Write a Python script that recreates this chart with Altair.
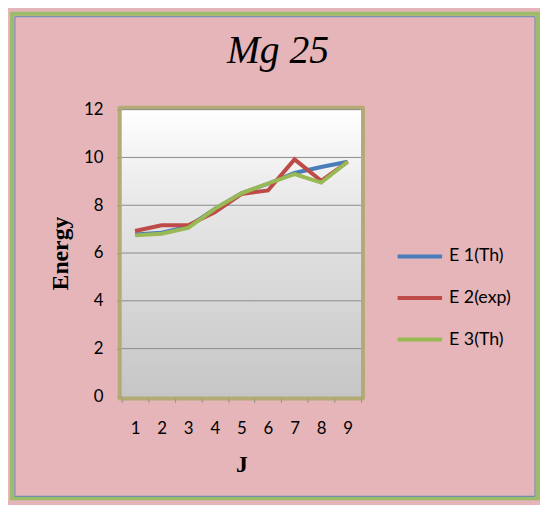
import altair as alt
import pandas as pd

# ---- data ----
J = [1, 2, 3, 4, 5, 6, 7, 8, 9]
e1 = [6.78, 6.85, 7.10, 7.85, 8.50, 8.90, 9.35, 9.60, 9.82]
e2 = [6.92, 7.16, 7.16, 7.71, 8.47, 8.62, 9.92, 9.02, 9.82]
e3 = [6.74, 6.81, 7.05, 7.85, 8.50, 8.91, 9.30, 8.95, 9.82]
series = ["E 1(Th)", "E 2(exp)", "E 3(Th)"]
colors = ["#4a7ebb", "#be4b48", "#98b954"]
y_ticks = [0, 2, 4, 6, 8, 10, 12]
grid_vals = [2, 4, 6, 8, 10, 12]

rows = []
for name, vals in zip(series, [e1, e2, e3]):
    for j, v in zip(J, vals):
        rows.append({"J": j, "Energy": v, "Series": name})
df = pd.DataFrame(rows)
grid_df = pd.DataFrame({"Energy": grid_vals})
one = pd.DataFrame({"a": [0]})

W, H = 242, 290

y_scale = alt.Scale(domain=[0, 12])
y_axis = alt.Axis(
    values=y_ticks, domain=False, grid=False, ticks=True, tickColor="#8c8c8c",
    tickSize=5, labelFont="Lato", labelFontSize=17, labelColor="black",
    labelPadding=14, title="Energy", titleFont="Liberation Serif",
    titleFontWeight="bold", titleFontSize=24, titleColor="black", titlePadding=11,
)

# decorative outer frame
frame_g = alt.Chart(one).mark_rect(fillOpacity=0, stroke="#9dbb68", strokeWidth=4).encode(
    x=alt.value(-111), x2=alt.value(421), y=alt.value(-97), y2=alt.value(393)
)
frame_b = alt.Chart(one).mark_rect(fillOpacity=0, stroke="#5b86b8", strokeWidth=1).encode(
    x=alt.value(-108), x2=alt.value(418), y=alt.value(-94), y2=alt.value(391)
)

# plot area glow + gradient background
glow = alt.Chart(one).mark_rect(fill="#a7a865", opacity=0.8, cornerRadius=2).encode(
    x=alt.value(-4), x2=alt.value(W + 4), y=alt.value(-4), y2=alt.value(H + 4)
)
bg = alt.Chart(one).mark_rect(
    fill=alt.Gradient(
        gradient="linear",
        stops=[alt.GradientStop(color="#ffffff", offset=0),
               alt.GradientStop(color="#e6e6e6", offset=0.35),
               alt.GradientStop(color="#c6c6c6", offset=1)],
        x1=0, x2=0, y1=0, y2=1,
    )
).encode(x=alt.value(0), x2=alt.value(W), y=alt.value(0), y2=alt.value(H))

grid = alt.Chart(grid_df).mark_rule(color="#8a8a8a", strokeWidth=1).encode(
    y=alt.Y("Energy:Q", scale=y_scale, axis=y_axis),
    x=alt.value(0), x2=alt.value(W),
)

lines = alt.Chart(df).mark_line(strokeWidth=4).encode(
    x=alt.X(
        "J:O",
        scale=alt.Scale(type="band", paddingInner=0, paddingOuter=0),
        axis=alt.Axis(
            labelAngle=0, ticks=True, tickBand="extent", tickColor="#8c8c8c",
            tickSize=6, domainColor="#bdbdbd", labelFont="Lato", labelFontSize=17,
            labelColor="black", labelPadding=18, title="J",
            titleFont="Liberation Serif", titleFontWeight="bold", titleFontSize=24,
            titleColor="black", titlePadding=17,
        ),
    ),
    y=alt.Y("Energy:Q", scale=y_scale, axis=y_axis),
    color=alt.Color(
        "Series:N",
        sort=series,
        scale=alt.Scale(domain=series, range=colors),
        legend=alt.Legend(
            title=None, orient="none", legendX=277, legendY=124,
            symbolType="stroke", symbolSize=2025, symbolStrokeWidth=4,
            labelFont="Lato", labelFontSize=18, labelColor="black",
            labelOffset=5, rowPadding=8,
        ),
    ),
    order=alt.Order("Series:N"),
)

chart = alt.layer(frame_g, frame_b, glow, bg, grid, lines).properties(
    width=W, height=H,
    title=alt.TitleParams(
        "Mg 25", font="Liberation Serif", fontStyle="italic", fontWeight="normal",
        fontSize=40, color="black", anchor="middle", frame="group", dx=37,
        offset=0, baseline="alphabetic", dy=92,
    ),
    autosize=alt.AutoSizeParams(type="none"),
    padding={"left": 115, "top": 100, "right": 181, "bottom": 107},
    background="#e5b5b9",
).configure_view(stroke=None)

chart.save("out.html", embed_options={"renderer": "svg", "actions": False})
